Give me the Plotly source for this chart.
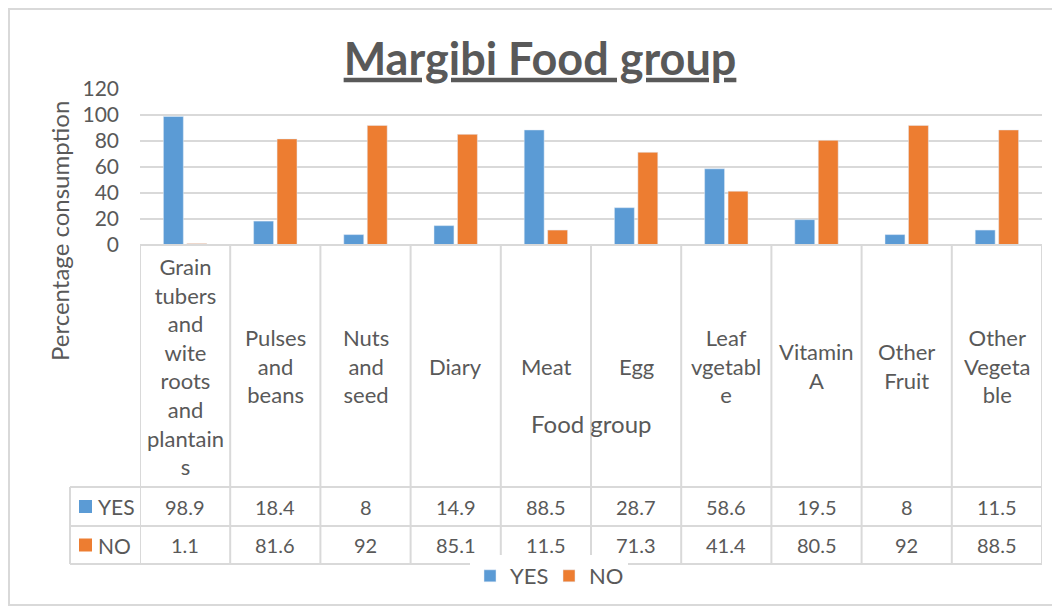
import plotly.graph_objects as go

# Food groups as they are wrapped in the data table
food_groups = ["Grain<br>tubers<br>and<br>wite<br>roots<br>and<br>plantain<br>s",
               "Pulses<br>and<br>beans", "Nuts<br>and<br>seed", "Diary", "Meat", "Egg",
               "Leaf<br>vgetabl<br>e", "Vitamin<br>A", "Other<br>Fruit", "Other<br>Vegeta<br>ble"]
yes_values = [98.9, 18.4, 8, 14.9, 88.5, 28.7, 58.6, 19.5, 8, 11.5]
no_values = [1.1, 81.6, 92, 85.1, 11.5, 71.3, 41.4, 80.5, 92, 88.5]
y_ticks = [0, 20, 40, 60, 80, 100, 120]

W, H = 1060, 611
BLUE, ORANGE = "#5B9BD5", "#ED7D31"
TEXT = "#595959"
GRID = "#D9D9D9"
FONT = "Lato"
PAGE_OFFSET = 8  # default body margin of the html page


def px_x(v):
    return (v - PAGE_OFFSET) / W


def px_y(v):
    return 1 - (v - PAGE_OFFSET) / H


# table geometry (pixels in the screenshot)
plot_left, plot_right = 140, 1042
plot_top, plot_bottom = 89, 245
key_left = 70
row_lines = [487, 526, 564]

fig = go.Figure()
fig.add_trace(go.Bar(x=food_groups, y=yes_values, name="YES", marker_color=BLUE))
fig.add_trace(go.Bar(x=food_groups, y=no_values, name="NO", marker_color=ORANGE))

fig.update_layout(
    width=W, height=H,
    margin=dict(l=0, r=0, t=0, b=0, autoexpand=False),
    paper_bgcolor="white", plot_bgcolor="white",
    font=dict(family=FONT, size=21, color=TEXT),
    barmode="group", bargap=0.48, bargroupgap=0.15,
    title=dict(text="<b><u>Margibi Food group</u></b>", x=px_x(540), xanchor="center",
               y=px_y(59), yanchor="middle", font=dict(family=FONT, size=45, color=TEXT)),
    xaxis=dict(domain=[px_x(plot_left), px_x(plot_right)], range=[-0.5, len(food_groups) - 0.5],
               showticklabels=False, showgrid=False, zeroline=False, showline=False, automargin=False),
    yaxis=dict(domain=[px_y(plot_bottom), px_y(plot_top)], range=[0, 120], tickvals=y_ticks,
               showgrid=True, gridcolor=GRID, gridwidth=2, zeroline=False, showline=False,
               automargin=False, ticklabelstandoff=20, tickfont=dict(size=21, color=TEXT)),
    legend=dict(orientation="h", x=px_x(470), xanchor="left", y=px_y(576), yanchor="middle",
                font=dict(size=22, color=TEXT), itemwidth=30, traceorder="normal",
                entrywidth=34, entrywidthmode="pixels"),
    showlegend=True,
)

line = dict(color=GRID, width=2)
shapes = []
# column borders of the data table
for i in range(len(food_groups) + 1):
    shapes.append(dict(type="line", xref="x", yref="paper", x0=i - 0.5, x1=i - 0.5,
                       y0=px_y(row_lines[-1]), y1=px_y(plot_bottom), line=line))
# top of table = category axis line
shapes.append(dict(type="line", xref="paper", yref="paper", x0=px_x(plot_left), x1=px_x(plot_right),
                   y0=px_y(plot_bottom), y1=px_y(plot_bottom), line=line))
# row borders
for r in row_lines:
    shapes.append(dict(type="line", xref="paper", yref="paper", x0=px_x(key_left), x1=px_x(plot_right),
                       y0=px_y(r), y1=px_y(r), line=line))
shapes.append(dict(type="line", xref="paper", yref="paper", x0=px_x(key_left), x1=px_x(key_left),
                   y0=px_y(row_lines[0]), y1=px_y(row_lines[-1]), line=line))
# chart area border
shapes.append(dict(type="rect", xref="paper", yref="paper", x0=px_x(9), x1=px_x(1055),
                   y0=px_y(605), y1=px_y(9), line=dict(color=GRID, width=2)))

# table text
header_mid = (plot_bottom + row_lines[0]) / 2
yes_mid = (row_lines[0] + row_lines[1]) / 2
no_mid = (row_lines[1] + row_lines[2]) / 2
for g, yv, nv in zip(food_groups, yes_values, no_values):
    fig.add_annotation(x=g, xref="x", y=px_y(header_mid), yref="paper", text=g, showarrow=False,
                       font=dict(size=22, color=TEXT), align="center", xanchor="center", yanchor="middle")
    fig.add_annotation(x=g, xref="x", y=px_y(yes_mid), yref="paper", text=f"{yv:g}", showarrow=False,
                       font=dict(size=20, color=TEXT), xanchor="center", yanchor="middle")
    fig.add_annotation(x=g, xref="x", y=px_y(no_mid), yref="paper", text=f"{nv:g}", showarrow=False,
                       font=dict(size=20, color=TEXT), xanchor="center", yanchor="middle")

# legend keys in the table
for name, color, mid in [("YES", BLUE, yes_mid), ("NO", ORANGE, no_mid)]:
    shapes.append(dict(type="rect", xref="paper", yref="paper", x0=px_x(79), x1=px_x(92),
                       y0=px_y(mid + 6.5), y1=px_y(mid - 6.5), fillcolor=color, line=dict(width=0)))
    fig.add_annotation(x=px_x(96), xref="paper", y=px_y(mid), yref="paper", xanchor="left",
                       yanchor="middle", showarrow=False, text=name,
                       font=dict(size=21, color=TEXT))
fig.update_layout(shapes=shapes)

# axis titles
fig.add_annotation(x=px_x(59), xref="paper", y=px_y(231), yref="paper", text="Percentage consumption",
                   textangle=-90, showarrow=False, xanchor="center", yanchor="middle",
                   font=dict(size=24, color=TEXT))
fig.add_annotation(x=px_x(591), xref="paper", y=px_y(423), yref="paper", text="Food group",
                   showarrow=False, xanchor="center", yanchor="middle", font=dict(size=24, color=TEXT))

fig.write_html("out.html")
